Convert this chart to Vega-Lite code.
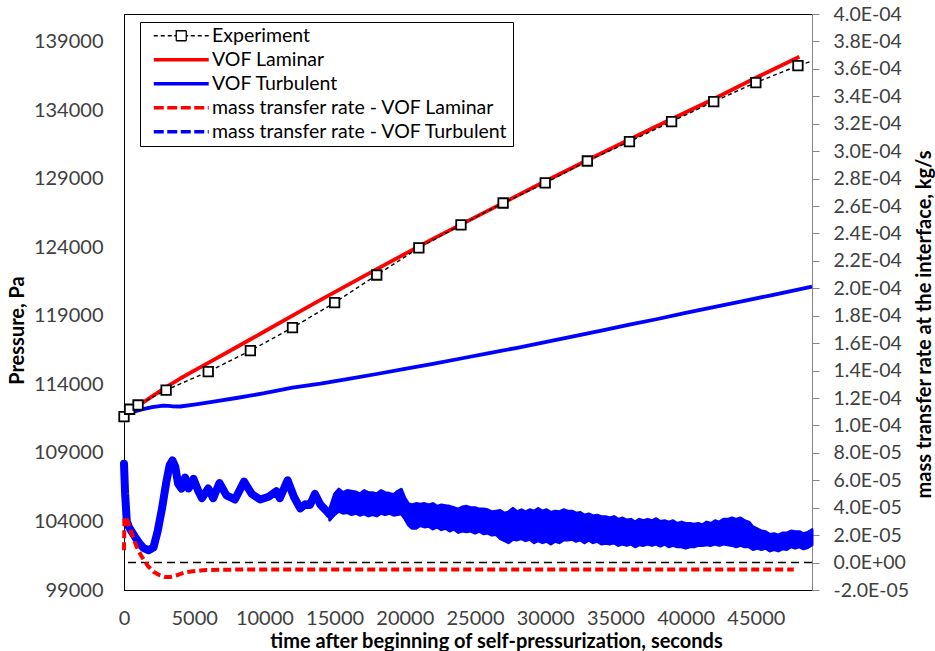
{
  "$schema": "https://vega.github.io/schema/vega-lite/v6.json",
  "width": 688,
  "height": 576,
  "autosize": {"type": "none"},
  "padding": {"left": 124, "top": 14, "right": 123, "bottom": 61},
  "background": "white",
  "config": {
    "font": "Lato",
    "view": {"stroke": "black", "strokeWidth": 1},
    "axis": {"grid": false, "labelFont": "Lato", "labelFontSize": 20, "labelColor": "#404040", "titleFont": "Lato", "titleFontSize": 20, "titleFontWeight": "bold", "titleColor": "black", "labelFlush": false, "labelOverlap": false, "labelSeparation": -12}
  },
  "datasets": {
    "pressure": [
      {"series": "Experiment", "t": 0, "P": 111640},
      {"series": "Experiment", "t": 400, "P": 112180},
      {"series": "Experiment", "t": 1000, "P": 112490},
      {"series": "Experiment", "t": 3000, "P": 113580},
      {"series": "Experiment", "t": 6000, "P": 114920},
      {"series": "Experiment", "t": 9000, "P": 116450},
      {"series": "Experiment", "t": 12000, "P": 118130},
      {"series": "Experiment", "t": 15000, "P": 119950},
      {"series": "Experiment", "t": 18000, "P": 121970},
      {"series": "Experiment", "t": 21000, "P": 123940},
      {"series": "Experiment", "t": 24000, "P": 125620},
      {"series": "Experiment", "t": 27000, "P": 127220},
      {"series": "Experiment", "t": 30000, "P": 128680},
      {"series": "Experiment", "t": 33000, "P": 130280},
      {"series": "Experiment", "t": 36000, "P": 131690},
      {"series": "Experiment", "t": 39000, "P": 133150},
      {"series": "Experiment", "t": 42000, "P": 134610},
      {"series": "Experiment", "t": 45000, "P": 136000},
      {"series": "Experiment", "t": 48000, "P": 137230},
      {"series": "Experiment", "t": 49000, "P": 137570},
      {"series": "VOF Laminar", "t": 0, "P": 111650},
      {"series": "VOF Laminar", "t": 500, "P": 112050},
      {"series": "VOF Laminar", "t": 1000, "P": 112420},
      {"series": "VOF Laminar", "t": 2000, "P": 113120},
      {"series": "VOF Laminar", "t": 3000, "P": 113800},
      {"series": "VOF Laminar", "t": 4000, "P": 114420},
      {"series": "VOF Laminar", "t": 5000, "P": 115000},
      {"series": "VOF Laminar", "t": 6000, "P": 115560},
      {"series": "VOF Laminar", "t": 8000, "P": 116700},
      {"series": "VOF Laminar", "t": 10000, "P": 117850},
      {"series": "VOF Laminar", "t": 12000, "P": 119000},
      {"series": "VOF Laminar", "t": 14000, "P": 120150},
      {"series": "VOF Laminar", "t": 18000, "P": 122400},
      {"series": "VOF Laminar", "t": 22000, "P": 124600},
      {"series": "VOF Laminar", "t": 26000, "P": 126700},
      {"series": "VOF Laminar", "t": 30000, "P": 128800},
      {"series": "VOF Laminar", "t": 34000, "P": 130850},
      {"series": "VOF Laminar", "t": 38000, "P": 132850},
      {"series": "VOF Laminar", "t": 42000, "P": 134800},
      {"series": "VOF Laminar", "t": 45000, "P": 136350},
      {"series": "VOF Laminar", "t": 48100, "P": 137880},
      {"series": "VOF Turbulent", "t": 0, "P": 111650},
      {"series": "VOF Turbulent", "t": 300, "P": 111850},
      {"series": "VOF Turbulent", "t": 700, "P": 112000},
      {"series": "VOF Turbulent", "t": 1200, "P": 112150},
      {"series": "VOF Turbulent", "t": 2000, "P": 112330},
      {"series": "VOF Turbulent", "t": 2800, "P": 112440},
      {"series": "VOF Turbulent", "t": 3400, "P": 112400},
      {"series": "VOF Turbulent", "t": 4000, "P": 112380},
      {"series": "VOF Turbulent", "t": 5000, "P": 112520},
      {"series": "VOF Turbulent", "t": 6500, "P": 112750},
      {"series": "VOF Turbulent", "t": 8000, "P": 113000},
      {"series": "VOF Turbulent", "t": 10000, "P": 113350},
      {"series": "VOF Turbulent", "t": 12000, "P": 113750},
      {"series": "VOF Turbulent", "t": 14000, "P": 114050},
      {"series": "VOF Turbulent", "t": 16000, "P": 114400},
      {"series": "VOF Turbulent", "t": 18000, "P": 114750},
      {"series": "VOF Turbulent", "t": 20000, "P": 115120},
      {"series": "VOF Turbulent", "t": 22000, "P": 115480},
      {"series": "VOF Turbulent", "t": 24000, "P": 115880},
      {"series": "VOF Turbulent", "t": 26000, "P": 116280},
      {"series": "VOF Turbulent", "t": 28000, "P": 116660},
      {"series": "VOF Turbulent", "t": 30000, "P": 117070},
      {"series": "VOF Turbulent", "t": 32000, "P": 117500},
      {"series": "VOF Turbulent", "t": 34000, "P": 117920},
      {"series": "VOF Turbulent", "t": 36000, "P": 118350},
      {"series": "VOF Turbulent", "t": 38000, "P": 118760},
      {"series": "VOF Turbulent", "t": 40000, "P": 119200},
      {"series": "VOF Turbulent", "t": 42000, "P": 119620},
      {"series": "VOF Turbulent", "t": 44000, "P": 120050},
      {"series": "VOF Turbulent", "t": 46000, "P": 120470},
      {"series": "VOF Turbulent", "t": 49000, "P": 121120}
    ],
    "rateLam": [
      {"t": 0, "R": 9e-6}, {"t": 30, "R": 33e-6}, {"t": 150, "R": 33e-6}, {"t": 550, "R": 21e-6},
      {"t": 900, "R": 11.5e-6}, {"t": 1250, "R": 4.5e-6}, {"t": 1700, "R": -2.5e-6}, {"t": 2100, "R": -6.7e-6},
      {"t": 2500, "R": -9e-6}, {"t": 2900, "R": -10.5e-6}, {"t": 3300, "R": -10.5e-6}, {"t": 3700, "R": -9.5e-6},
      {"t": 4400, "R": -7e-6}, {"t": 5600, "R": -5.6e-6}, {"t": 7000, "R": -5.2e-6}, {"t": 10000, "R": -5e-6},
      {"t": 47700, "R": -5e-6}
    ],
    "rateTurbLine": [
      {"t": 0, "R": 72e-6}, {"t": 80, "R": 50e-6}, {"t": 200, "R": 30e-6}, {"t": 350, "R": 26e-6},
      {"t": 550, "R": 22.5e-6}, {"t": 800, "R": 18.5e-6}, {"t": 1100, "R": 14e-6}, {"t": 1400, "R": 10.5e-6},
      {"t": 1750, "R": 9e-6}, {"t": 2100, "R": 11e-6}, {"t": 2400, "R": 23e-6}, {"t": 2700, "R": 39e-6},
      {"t": 3000, "R": 58e-6}, {"t": 3250, "R": 71e-6}, {"t": 3450, "R": 74.5e-6}, {"t": 3650, "R": 70e-6},
      {"t": 3850, "R": 57.5e-6}, {"t": 4100, "R": 54e-6}, {"t": 4350, "R": 62e-6}, {"t": 4600, "R": 54e-6},
      {"t": 4950, "R": 61e-6}, {"t": 5300, "R": 52e-6}, {"t": 5550, "R": 47e-6}, {"t": 6000, "R": 54e-6},
      {"t": 6350, "R": 47e-6}, {"t": 6800, "R": 58e-6}, {"t": 7300, "R": 49e-6}, {"t": 7900, "R": 46e-6},
      {"t": 8550, "R": 59e-6}, {"t": 9100, "R": 50e-6}, {"t": 9700, "R": 46e-6}, {"t": 10300, "R": 48e-6},
      {"t": 10850, "R": 52e-6}, {"t": 11100, "R": 47e-6}, {"t": 11650, "R": 60e-6}, {"t": 12100, "R": 48e-6},
      {"t": 12550, "R": 39.5e-6}, {"t": 12900, "R": 42.5e-6}, {"t": 13250, "R": 42e-6}, {"t": 13600, "R": 50e-6},
      {"t": 14000, "R": 42e-6}, {"t": 14300, "R": 39e-6}, {"t": 14650, "R": 35e-6}
    ],
    "rateTurbBand": [
      {"t": 14650, "lo": 31e-6, "hi": 39e-6}, {"t": 15000, "lo": 35e-6, "hi": 50e-6}, {"t": 15300, "lo": 37.5e-6, "hi": 53.5e-6},
      {"t": 15600, "lo": 36e-6, "hi": 51e-6}, {"t": 15900, "lo": 36.5e-6, "hi": 52.5e-6}, {"t": 16200, "lo": 35e-6, "hi": 52e-6},
      {"t": 16500, "lo": 36e-6, "hi": 51.5e-6}, {"t": 16800, "lo": 34.5e-6, "hi": 50e-6}, {"t": 17100, "lo": 35.5e-6, "hi": 52.5e-6},
      {"t": 17400, "lo": 34e-6, "hi": 51e-6}, {"t": 17700, "lo": 35e-6, "hi": 51e-6}, {"t": 18000, "lo": 34e-6, "hi": 50e-6},
      {"t": 18300, "lo": 36e-6, "hi": 52.5e-6}, {"t": 18600, "lo": 35e-6, "hi": 51e-6}, {"t": 18900, "lo": 36e-6, "hi": 50.5e-6},
      {"t": 19200, "lo": 34.5e-6, "hi": 49.5e-6}, {"t": 19500, "lo": 35e-6, "hi": 52e-6}, {"t": 19750, "lo": 35.5e-6, "hi": 53.5e-6},
      {"t": 20000, "lo": 32e-6, "hi": 47e-6}, {"t": 20250, "lo": 27.5e-6, "hi": 43e-6}, {"t": 20500, "lo": 25e-6, "hi": 42e-6},
      {"t": 20800, "lo": 25e-6, "hi": 43e-6}, {"t": 21100, "lo": 27e-6, "hi": 42.5e-6}, {"t": 21400, "lo": 26e-6, "hi": 43e-6},
      {"t": 21700, "lo": 26.5e-6, "hi": 42e-6}, {"t": 22000, "lo": 24.5e-6, "hi": 43e-6}, {"t": 22300, "lo": 26e-6, "hi": 41e-6},
      {"t": 22600, "lo": 24e-6, "hi": 42e-6}, {"t": 22900, "lo": 25e-6, "hi": 41.5e-6}, {"t": 23200, "lo": 23e-6, "hi": 41e-6},
      {"t": 23500, "lo": 24.5e-6, "hi": 40e-6}, {"t": 23800, "lo": 22e-6, "hi": 39e-6}, {"t": 24100, "lo": 23e-6, "hi": 40.5e-6},
      {"t": 24400, "lo": 22.5e-6, "hi": 41e-6}, {"t": 24700, "lo": 23e-6, "hi": 40e-6}, {"t": 25000, "lo": 21.5e-6, "hi": 40e-6},
      {"t": 25300, "lo": 23e-6, "hi": 39e-6}, {"t": 25600, "lo": 21e-6, "hi": 39e-6}, {"t": 25900, "lo": 21.5e-6, "hi": 38.5e-6},
      {"t": 26200, "lo": 20e-6, "hi": 37e-6}, {"t": 26500, "lo": 20.5e-6, "hi": 37.5e-6}, {"t": 26800, "lo": 17.5e-6, "hi": 38e-6},
      {"t": 27100, "lo": 16e-6, "hi": 36e-6}, {"t": 27400, "lo": 14.5e-6, "hi": 37e-6}, {"t": 27700, "lo": 17e-6, "hi": 39.5e-6},
      {"t": 28000, "lo": 16.5e-6, "hi": 37e-6}, {"t": 28300, "lo": 17.5e-6, "hi": 38.5e-6}, {"t": 28600, "lo": 16e-6, "hi": 37e-6},
      {"t": 28900, "lo": 17e-6, "hi": 38.5e-6}, {"t": 29200, "lo": 14.5e-6, "hi": 37.5e-6}, {"t": 29500, "lo": 16e-6, "hi": 39.5e-6},
      {"t": 29800, "lo": 14.5e-6, "hi": 37.5e-6}, {"t": 30100, "lo": 15.5e-6, "hi": 38.5e-6}, {"t": 30400, "lo": 13.5e-6, "hi": 36.5e-6},
      {"t": 30700, "lo": 15.5e-6, "hi": 37.5e-6}, {"t": 31000, "lo": 14.5e-6, "hi": 37e-6}, {"t": 31300, "lo": 16.5e-6, "hi": 38.5e-6},
      {"t": 31600, "lo": 16.5e-6, "hi": 37.5e-6}, {"t": 31900, "lo": 17e-6, "hi": 37.5e-6}, {"t": 32200, "lo": 15.5e-6, "hi": 36e-6},
      {"t": 32500, "lo": 16.5e-6, "hi": 36.5e-6}, {"t": 32800, "lo": 14.5e-6, "hi": 34.5e-6}, {"t": 33100, "lo": 16.5e-6, "hi": 35.5e-6},
      {"t": 33400, "lo": 14.5e-6, "hi": 34e-6}, {"t": 33700, "lo": 15.5e-6, "hi": 34.5e-6}, {"t": 34000, "lo": 13.5e-6, "hi": 33.5e-6},
      {"t": 34300, "lo": 14e-6, "hi": 33.5e-6}, {"t": 34600, "lo": 13.5e-6, "hi": 32.5e-6}, {"t": 34900, "lo": 14.5e-6, "hi": 33.5e-6},
      {"t": 35200, "lo": 12.5e-6, "hi": 31.5e-6}, {"t": 35500, "lo": 13.5e-6, "hi": 32.5e-6}, {"t": 35800, "lo": 12.5e-6, "hi": 31e-6},
      {"t": 36100, "lo": 13.5e-6, "hi": 31.5e-6}, {"t": 36400, "lo": 11.5e-6, "hi": 29.5e-6}, {"t": 36700, "lo": 13e-6, "hi": 31.5e-6},
      {"t": 37000, "lo": 12.5e-6, "hi": 30.5e-6}, {"t": 37300, "lo": 13.5e-6, "hi": 31.5e-6}, {"t": 37600, "lo": 12.5e-6, "hi": 30.5e-6},
      {"t": 37900, "lo": 13.5e-6, "hi": 32e-6}, {"t": 38200, "lo": 12e-6, "hi": 30e-6}, {"t": 38500, "lo": 13.5e-6, "hi": 30.5e-6},
      {"t": 38800, "lo": 11.5e-6, "hi": 29.5e-6}, {"t": 39100, "lo": 12.5e-6, "hi": 30.5e-6}, {"t": 39400, "lo": 11.5e-6, "hi": 28.5e-6},
      {"t": 39700, "lo": 11.5e-6, "hi": 29.5e-6}, {"t": 40000, "lo": 10.5e-6, "hi": 28.5e-6}, {"t": 40300, "lo": 11.5e-6, "hi": 28.5e-6},
      {"t": 40600, "lo": 11.5e-6, "hi": 28e-6}, {"t": 40900, "lo": 12.5e-6, "hi": 28.5e-6}, {"t": 41200, "lo": 12.5e-6, "hi": 27.5e-6},
      {"t": 41500, "lo": 13e-6, "hi": 29.5e-6}, {"t": 41800, "lo": 12.5e-6, "hi": 28.5e-6}, {"t": 42100, "lo": 13.5e-6, "hi": 30.5e-6},
      {"t": 42400, "lo": 12.5e-6, "hi": 29.5e-6}, {"t": 42700, "lo": 13.5e-6, "hi": 31.5e-6}, {"t": 43000, "lo": 13e-6, "hi": 31.5e-6},
      {"t": 43300, "lo": 12.5e-6, "hi": 32.5e-6}, {"t": 43600, "lo": 11.5e-6, "hi": 31.5e-6}, {"t": 43900, "lo": 12.5e-6, "hi": 32.5e-6},
      {"t": 44200, "lo": 11.5e-6, "hi": 30.5e-6}, {"t": 44500, "lo": 11.5e-6, "hi": 29.5e-6}, {"t": 44800, "lo": 9.5e-6, "hi": 26e-6},
      {"t": 45100, "lo": 10.5e-6, "hi": 24.5e-6}, {"t": 45400, "lo": 9.5e-6, "hi": 23e-6}, {"t": 45700, "lo": 10.5e-6, "hi": 22.5e-6},
      {"t": 46000, "lo": 8.5e-6, "hi": 20.5e-6}, {"t": 46300, "lo": 9.5e-6, "hi": 21e-6}, {"t": 46600, "lo": 8.5e-6, "hi": 20e-6},
      {"t": 46900, "lo": 10e-6, "hi": 21.5e-6}, {"t": 47200, "lo": 9.5e-6, "hi": 21.5e-6}, {"t": 47500, "lo": 11.5e-6, "hi": 23e-6},
      {"t": 47800, "lo": 10.5e-6, "hi": 22.5e-6}, {"t": 48100, "lo": 11.5e-6, "hi": 22.5e-6}, {"t": 48400, "lo": 10e-6, "hi": 21e-6},
      {"t": 48700, "lo": 11e-6, "hi": 22e-6}, {"t": 49000, "lo": 13e-6, "hi": 24e-6}
    ]
  },
  "layer": [
    {
      "layer": [
        {
          "data": {"values": [{}]},
          "mark": {"type": "rule", "color": "black", "strokeWidth": 1.5, "strokeDash": [8, 5]},
          "encoding": {
            "y": {
              "datum": 0, "type": "quantitative",
              "scale": {"domain": [-0.00002, 0.0004], "nice": false, "zero": false},
              "axis": {
                "orient": "right",
                "values": [-0.00002, 0, 0.00002, 0.00004, 0.00006, 0.00008, 0.0001, 0.00012, 0.00014, 0.00016, 0.00018, 0.0002, 0.00022, 0.00024, 0.00026, 0.00028, 0.0003, 0.00032, 0.00034, 0.00036, 0.00038, 0.0004],
                "labelExpr": "replace(replace(replace(format(datum.value, '.1e'), 'e-', 'E-0'), 'e+', 'E+0'), '\u2212', '-')",
                "labelOverlap": false, "labelSeparation": -12, "labelFontSize": 19.5,
                "domainColor": "#868686", "tickColor": "#868686", "ticks": true, "tickWidth": 1, "tickSize": 7, "labelPadding": 14,
                "title": "mass transfer rate at the interface, kg/s",
                "titleAngle": -90, "titleAlign": "center", "titleBaseline": "middle", "titleX": 112, "titleY": 310
              }
            }
          }
        },
        {
          "data": {"name": "rateTurbLine"},
          "mark": {"type": "line", "color": "#0000FF", "strokeWidth": 8, "strokeCap": "round", "strokeJoin": "round"},
          "encoding": {
            "x": {"field": "t", "type": "quantitative", "scale": {"domain": [0, 49000], "nice": false, "zero": false}},
            "y": {
              "field": "R", "type": "quantitative",
              "scale": {"domain": [-0.00002, 0.0004], "nice": false, "zero": false},
              "axis": {
                "orient": "right",
                "values": [-0.00002, 0, 0.00002, 0.00004, 0.00006, 0.00008, 0.0001, 0.00012, 0.00014, 0.00016, 0.00018, 0.0002, 0.00022, 0.00024, 0.00026, 0.00028, 0.0003, 0.00032, 0.00034, 0.00036, 0.00038, 0.0004],
                "labelExpr": "replace(replace(replace(format(datum.value, '.1e'), 'e-', 'E-0'), 'e+', 'E+0'), '\u2212', '-')",
                "labelOverlap": false, "labelSeparation": -12, "labelFontSize": 19.5,
                "domainColor": "#868686", "tickColor": "#868686", "ticks": true, "tickWidth": 1, "tickSize": 7, "labelPadding": 14,
                "title": "mass transfer rate at the interface, kg/s",
                "titleAngle": -90, "titleAlign": "center", "titleBaseline": "middle", "titleX": 112, "titleY": 310
              }
            }
          }
        },
        {
          "data": {"name": "rateTurbBand"},
          "mark": {"type": "area", "color": "#0000FF", "stroke": "#0000FF", "strokeWidth": 3, "strokeJoin": "round", "opacity": 1},
          "encoding": {
            "x": {"field": "t", "type": "quantitative", "scale": {"domain": [0, 49000], "nice": false, "zero": false}},
            "y": {
              "field": "hi", "type": "quantitative",
              "scale": {"domain": [-0.00002, 0.0004], "nice": false, "zero": false},
              "axis": {
                "orient": "right",
                "values": [-0.00002, 0, 0.00002, 0.00004, 0.00006, 0.00008, 0.0001, 0.00012, 0.00014, 0.00016, 0.00018, 0.0002, 0.00022, 0.00024, 0.00026, 0.00028, 0.0003, 0.00032, 0.00034, 0.00036, 0.00038, 0.0004],
                "labelExpr": "replace(replace(replace(format(datum.value, '.1e'), 'e-', 'E-0'), 'e+', 'E+0'), '\u2212', '-')",
                "labelOverlap": false, "labelSeparation": -12, "labelFontSize": 19.5,
                "domainColor": "#868686", "tickColor": "#868686", "ticks": true, "tickWidth": 1, "tickSize": 7, "labelPadding": 14,
                "title": "mass transfer rate at the interface, kg/s",
                "titleAngle": -90, "titleAlign": "center", "titleBaseline": "middle", "titleX": 112, "titleY": 310
              }
            },
            "y2": {"field": "lo"}
          }
        },
        {
          "data": {"name": "rateLam"},
          "mark": {"type": "line", "color": "#FF0000", "strokeWidth": 4, "strokeDash": [8, 4], "strokeJoin": "round"},
          "encoding": {
            "x": {"field": "t", "type": "quantitative", "scale": {"domain": [0, 49000], "nice": false, "zero": false}},
            "y": {
              "field": "R", "type": "quantitative",
              "scale": {"domain": [-0.00002, 0.0004], "nice": false, "zero": false},
              "axis": {
                "orient": "right",
                "values": [-0.00002, 0, 0.00002, 0.00004, 0.00006, 0.00008, 0.0001, 0.00012, 0.00014, 0.00016, 0.00018, 0.0002, 0.00022, 0.00024, 0.00026, 0.00028, 0.0003, 0.00032, 0.00034, 0.00036, 0.00038, 0.0004],
                "labelExpr": "replace(replace(replace(format(datum.value, '.1e'), 'e-', 'E-0'), 'e+', 'E+0'), '\u2212', '-')",
                "labelOverlap": false, "labelSeparation": -12, "labelFontSize": 19.5,
                "domainColor": "#868686", "tickColor": "#868686", "ticks": true, "tickWidth": 1, "tickSize": 7, "labelPadding": 14,
                "title": "mass transfer rate at the interface, kg/s",
                "titleAngle": -90, "titleAlign": "center", "titleBaseline": "middle", "titleX": 112, "titleY": 310
              }
            }
          }
        }
      ]
    },
    {
      "layer": [
        {
          "data": {"name": "pressure"},
          "transform": [{"filter": "datum.series === 'VOF Turbulent'"}],
          "mark": {"type": "line", "strokeWidth": 3.8, "strokeJoin": "round"},
          "encoding": {
            "x": {"field": "t", "type": "quantitative", "scale": {"domain": [0, 49000], "nice": false, "zero": false}},
            "y": {"field": "P", "type": "quantitative", "scale": {"domain": [99000, 141000], "nice": false, "zero": false}},
            "color": {
              "field": "series", "type": "nominal",
              "scale": {
                "domain": ["Experiment", "VOF Laminar", "VOF Turbulent", "mass transfer rate - VOF Laminar", "mass transfer rate - VOF Turbulent"],
                "range": ["black", "#FF0000", "#0000FF", "#FF0000", "#0000FF"]
              }
            }
          }
        },
        {
          "data": {"name": "pressure"},
          "transform": [{"filter": "datum.series === 'VOF Laminar'"}],
          "mark": {"type": "line", "strokeWidth": 3.8, "strokeJoin": "round"},
          "encoding": {
            "x": {"field": "t", "type": "quantitative", "scale": {"domain": [0, 49000], "nice": false, "zero": false}},
            "y": {"field": "P", "type": "quantitative", "scale": {"domain": [99000, 141000], "nice": false, "zero": false}},
            "color": {
              "field": "series", "type": "nominal",
              "scale": {
                "domain": ["Experiment", "VOF Laminar", "VOF Turbulent", "mass transfer rate - VOF Laminar", "mass transfer rate - VOF Turbulent"],
                "range": ["black", "#FF0000", "#0000FF", "#FF0000", "#0000FF"]
              }
            }
          }
        },
        {
          "data": {"name": "pressure"},
          "transform": [{"filter": "datum.series === 'Experiment'"}],
          "mark": {"type": "line", "strokeWidth": 1.4, "strokeDash": [4, 3]},
          "encoding": {
            "x": {
              "field": "t", "type": "quantitative",
              "scale": {"domain": [0, 49000], "nice": false, "zero": false},
              "axis": {
                "values": [0, 5000, 10000, 15000, 20000, 25000, 30000, 35000, 40000, 45000],
                "format": "d",
                "ticks": false,
                "tickSize": 0,
                "labelPadding": 18,
                "domainColor": "black",
                "title": "time after beginning of self-pressurization, seconds",
                "titleX": 372,
                "titlePadding": 3
              }
            },
            "y": {
              "field": "P", "type": "quantitative",
              "scale": {"domain": [99000, 141000], "nice": false, "zero": false},
              "axis": {
                "orient": "left",
                "values": [99000, 104000, 109000, 114000, 119000, 124000, 129000, 134000, 139000],
                "format": "d",
                "ticks": false,
                "tickSize": 0,
                "labelPadding": 21,
                "domainColor": "black",
                "title": "Pressure, Pa",
                "titleAngle": -90,
                "titleAlign": "center",
                "titleBaseline": "middle",
                "titleX": -107,
                "titleY": 316
              }
            },
            "color": {
              "field": "series", "type": "nominal",
              "scale": {
                "domain": ["Experiment", "VOF Laminar", "VOF Turbulent", "mass transfer rate - VOF Laminar", "mass transfer rate - VOF Turbulent"],
                "range": ["black", "#FF0000", "#0000FF", "#FF0000", "#0000FF"]
              },
              "legend": {
                "orient": "none",
                "legendX": 16,
                "legendY": 8,
                "direction": "vertical",
                "title": null,
                "strokeColor": "black",
                "fillColor": "white",
                "padding": 4,
                "labelFont": "Lato",
                "labelFontSize": 19.5,
                "labelColor": "black",
                "labelLimit": 400,
                "labelExpr": "datum.label + '\u00a0\u00a0\u00a0'",
                "symbolType": "stroke",
                "symbolSize": 100,
                "symbolStrokeWidth": 3.5,
                "symbolOffset": 27.5,
                "rowPadding": 3,
                "labelOffset": 21,
                "encode": {
                  "symbols": {
                    "update": {
                      "shape": {"signal": "datum.value === 'Experiment' ? 'M-5.5,0H-4.7M-4.1,0H-3.3M-2.7,0H-1.9M-1.4,0H-1M-1,-1H1V1H-1ZM1,0H1.4M1.9,0H2.7M3.3,0H4.1M4.7,0H5.5' : 'M-5.5,0H5.5'"},
                      "strokeDash": {"signal": "indexof(datum.value, 'mass') === 0 ? [10, 3.5] : [1, 0]"},
                      "strokeWidth": {"signal": "datum.value === 'Experiment' ? 1.3 : 3.5"},
                      "fill": {"signal": "datum.value === 'Experiment' ? 'white' : 'transparent'"}
                    }
                  }
                }
              }
            }
          }
        },
        {
          "data": {"name": "pressure"},
          "transform": [{"filter": "datum.series === 'Experiment' && datum.t < 48500"}],
          "mark": {"type": "point", "shape": "square", "size": 90, "filled": true, "fill": "white", "stroke": "black", "strokeWidth": 1.8, "opacity": 1},
          "encoding": {
            "x": {"field": "t", "type": "quantitative", "scale": {"domain": [0, 49000], "nice": false, "zero": false}},
            "y": {"field": "P", "type": "quantitative", "scale": {"domain": [99000, 141000], "nice": false, "zero": false}}
          }
        }
      ]
    }
  ],
  "resolve": {"scale": {"y": "independent"}}
}
